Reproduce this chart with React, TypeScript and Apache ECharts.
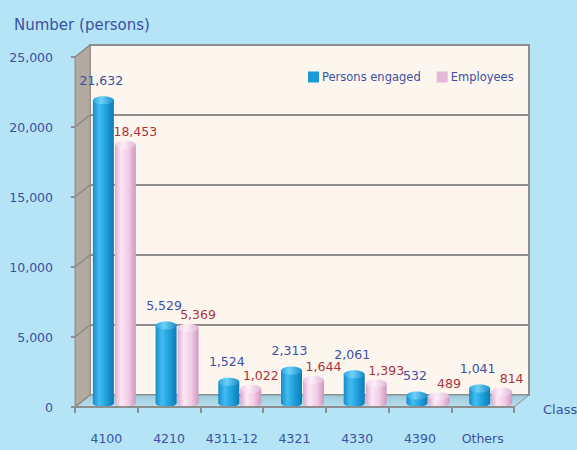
import React, { useEffect, useRef } from 'react';
import * as echarts from 'echarts';

const categories = ['4100', '4210', '4311-12', '4321', '4330', '4390', 'Others'];
const personsEngaged = [21632, 5529, 1524, 2313, 2061, 532, 1041];
const employees = [18453, 5369, 1022, 1644, 1393, 489, 814];
const yTicks = [0, 5000, 10000, 15000, 20000, 25000];
const seriesNames = ['Persons engaged', 'Employees'];
const yAxisTitle = 'Number (persons)';
const xAxisTitle = 'Class';

const FONT = 'DejaVu Sans';
const BLUE_TEXT = '#3b51a3';
const RED_TEXT = '#a8343a';
const BG = '#b4e4f6';
const DX = 15;
const DY = 12;
const Y_MAX = 25000;
const Y_STEP = 5000;

const fmt = (v: number) => v.toLocaleString('en-US');

const blueBody = {
  type: 'linear', x: 0, y: 0, x2: 1, y2: 0,
  colorStops: [
    { offset: 0, color: '#168cca' },
    { offset: 0.3, color: '#42bcf0' },
    { offset: 0.6, color: '#22a4e0' },
    { offset: 1, color: '#0e7ab4' },
  ],
};
const blueCap = {
  type: 'linear', x: 0, y: 0, x2: 1, y2: 0,
  colorStops: [
    { offset: 0, color: '#2aa6e0' },
    { offset: 0.4, color: '#6cd0f8' },
    { offset: 1, color: '#1a8ccc' },
  ],
};
const pinkBody = {
  type: 'linear', x: 0, y: 0, x2: 1, y2: 0,
  colorStops: [
    { offset: 0, color: '#dcaad0' },
    { offset: 0.3, color: '#fbe8f4' },
    { offset: 0.65, color: '#f2cce4' },
    { offset: 1, color: '#cf98c0' },
  ],
};
const pinkCap = {
  type: 'linear', x: 0, y: 0, x2: 1, y2: 0,
  colorStops: [
    { offset: 0, color: '#eec6e2' },
    { offset: 0.4, color: '#fdf0f8' },
    { offset: 1, color: '#e0b4d4' },
  ],
};

const makeCylinder = (side: number, body: any, cap: any, textColor: string, labelDx: number, labelGap: number) =>
  (params: any, api: any) => {
    const idx = api.value(0);
    const val = api.value(1);
    const top = api.coord([idx, val]);
    const base = api.coord([idx, 0]);
    const w = 21;
    const rx = w / 2;
    const ry = 4;
    const cx = top[0] + side * (rx + 0.5);
    return {
      type: 'group',
      children: [
        { type: 'ellipse', shape: { cx, cy: base[1], rx, ry }, style: { fill: body } },
        { type: 'rect', shape: { x: cx - rx, y: top[1], width: w, height: base[1] - top[1] }, style: { fill: body } },
        { type: 'ellipse', shape: { cx, cy: top[1], rx, ry }, style: { fill: cap } },
        {
          type: 'text',
          style: {
            text: fmt(val), x: cx + labelDx, y: top[1] - ry - labelGap,
            align: 'center', verticalAlign: 'middle', fill: textColor, fontSize: 12.5, fontFamily: FONT,
          },
        },
      ],
    };
  };

export default function App() {
  const ref = useRef<HTMLDivElement>(null);
  useEffect(() => {
    if (!ref.current) return;
    const chart = echarts.init(ref.current, undefined, { renderer: 'svg' });
    const floorGrad = {
      type: 'linear', x: 0, y: 0, x2: 0, y2: 1,
      colorStops: [
        { offset: 0, color: '#9ccbdc' },
        { offset: 1, color: '#b8dfec' },
      ],
    };
    const option: any = {
      animation: false,
      backgroundColor: BG,
      textStyle: { fontFamily: FONT },
      title: {
        text: yAxisTitle, left: 14, top: 17, padding: 0,
        textStyle: { color: BLUE_TEXT, fontSize: 15, fontWeight: 'normal', fontFamily: FONT },
      },
      legend: {
        data: seriesNames, left: 308, top: 71, padding: 0,
        itemWidth: 11, itemHeight: 11, itemGap: 16, icon: 'rect',
        textStyle: { color: BLUE_TEXT, fontSize: 11.5, fontFamily: FONT, padding: [0, 0, 0, -2] },
      },
      graphic: [
        { type: 'text', left: 543, top: 403, style: { text: xAxisTitle, fill: BLUE_TEXT, fontSize: 13, fontFamily: FONT } },
      ],
      grid: [
        { left: 75, top: 57, width: 439, height: 350 },
        { left: 90, top: 45, width: 439, height: 350, show: true, backgroundColor: '#fdf6ef', borderColor: '#8e8e8e', borderWidth: 2 },
        { left: 83, top: 53, width: 439, height: 350 },
      ],
      xAxis: [
        {
          gridIndex: 0, type: 'category', data: categories, z: 5,
          axisLine: { lineStyle: { color: '#8e8e8e', width: 2 } },
          axisTick: { show: true, interval: 0, length: 6, lineStyle: { color: '#8e8e8e', width: 2 } },
          axisLabel: { interval: 0, margin: 25, color: BLUE_TEXT, fontSize: 12.5, fontFamily: FONT },
        },
        { gridIndex: 1, type: 'category', data: categories, show: false },
        { gridIndex: 2, type: 'category', data: categories, show: false },
      ],
      yAxis: [
        {
          gridIndex: 0, type: 'value', min: 0, max: Y_MAX, interval: Y_STEP, z: 5,
          axisLine: { show: true, lineStyle: { color: '#9a928a', width: 1 } },
          axisTick: { show: true, length: 4, lineStyle: { color: '#8e8e8e', width: 2 } },
          splitLine: { show: false },
          axisLabel: { margin: 22, color: BLUE_TEXT, fontSize: 12.5, fontFamily: FONT, formatter: (v: number) => fmt(v) },
        },
        {
          gridIndex: 1, type: 'value', min: 0, max: Y_MAX, interval: Y_STEP,
          axisLine: { show: false }, axisTick: { show: false }, axisLabel: { show: false },
          splitLine: { show: true, lineStyle: { color: '#8e8e8e', width: 2 } },
        },
        { gridIndex: 2, type: 'value', min: 0, max: Y_MAX, interval: Y_STEP, show: false, splitLine: { show: false } },
      ],
      series: [
        {
          type: 'custom', name: 'walls', xAxisIndex: 0, yAxisIndex: 0, z: 1, silent: true, clip: false,
          data: [[0, 0]],
          renderItem: (params: any, api: any) => {
            const cs = params.coordSys;
            const x = cs.x, y = cs.y, w = cs.width, h = cs.height;
            const children: any[] = [
              {
                type: 'polygon',
                shape: { points: [[x, y], [x + DX, y - DY], [x + DX, y + h - DY], [x, y + h]] },
                style: { fill: '#b2a9a0', stroke: '#9a928a', lineWidth: 1 },
              },
              {
                type: 'polygon',
                shape: { points: [[x, y + h], [x + DX, y + h - DY], [x + w + DX, y + h - DY], [x + w, y + h]] },
                style: { fill: floorGrad, stroke: '#8e8e8e', lineWidth: 1 },
              },
            ];
            yTicks.forEach((t) => {
              const p = api.coord([0, t]);
              children.push({
                type: 'line',
                shape: { x1: x, y1: p[1], x2: x + DX, y2: p[1] - DY },
                style: { stroke: '#8e8882', lineWidth: 1.5 },
              });
            });
            return { type: 'group', children };
          },
        },
        {
          type: 'custom', name: seriesNames[0], xAxisIndex: 2, yAxisIndex: 2, z: 3, clip: false,
          itemStyle: { color: '#1a9ad6' },
          encode: { x: 0, y: 1 },
          data: personsEngaged.map((v, i) => [i, v]),
          renderItem: makeCylinder(-1, blueBody, blueCap, BLUE_TEXT, -2, 16),
        },
        {
          type: 'custom', name: seriesNames[1], xAxisIndex: 2, yAxisIndex: 2, z: 3, clip: false,
          itemStyle: { color: '#e6b8d8' },
          encode: { x: 0, y: 1 },
          data: employees.map((v, i) => [i, v]),
          renderItem: makeCylinder(1, pinkBody, pinkCap, RED_TEXT, 10, 9),
        },
      ],
    };
    chart.setOption(option);
    return () => chart.dispose();
  }, []);
  return (
    <div style={{ position: 'fixed', left: 0, top: 0, width: 577, height: 450, background: BG }}>
      <div ref={ref} style={{ width: 577, height: 450 }} />
    </div>
  );
}
